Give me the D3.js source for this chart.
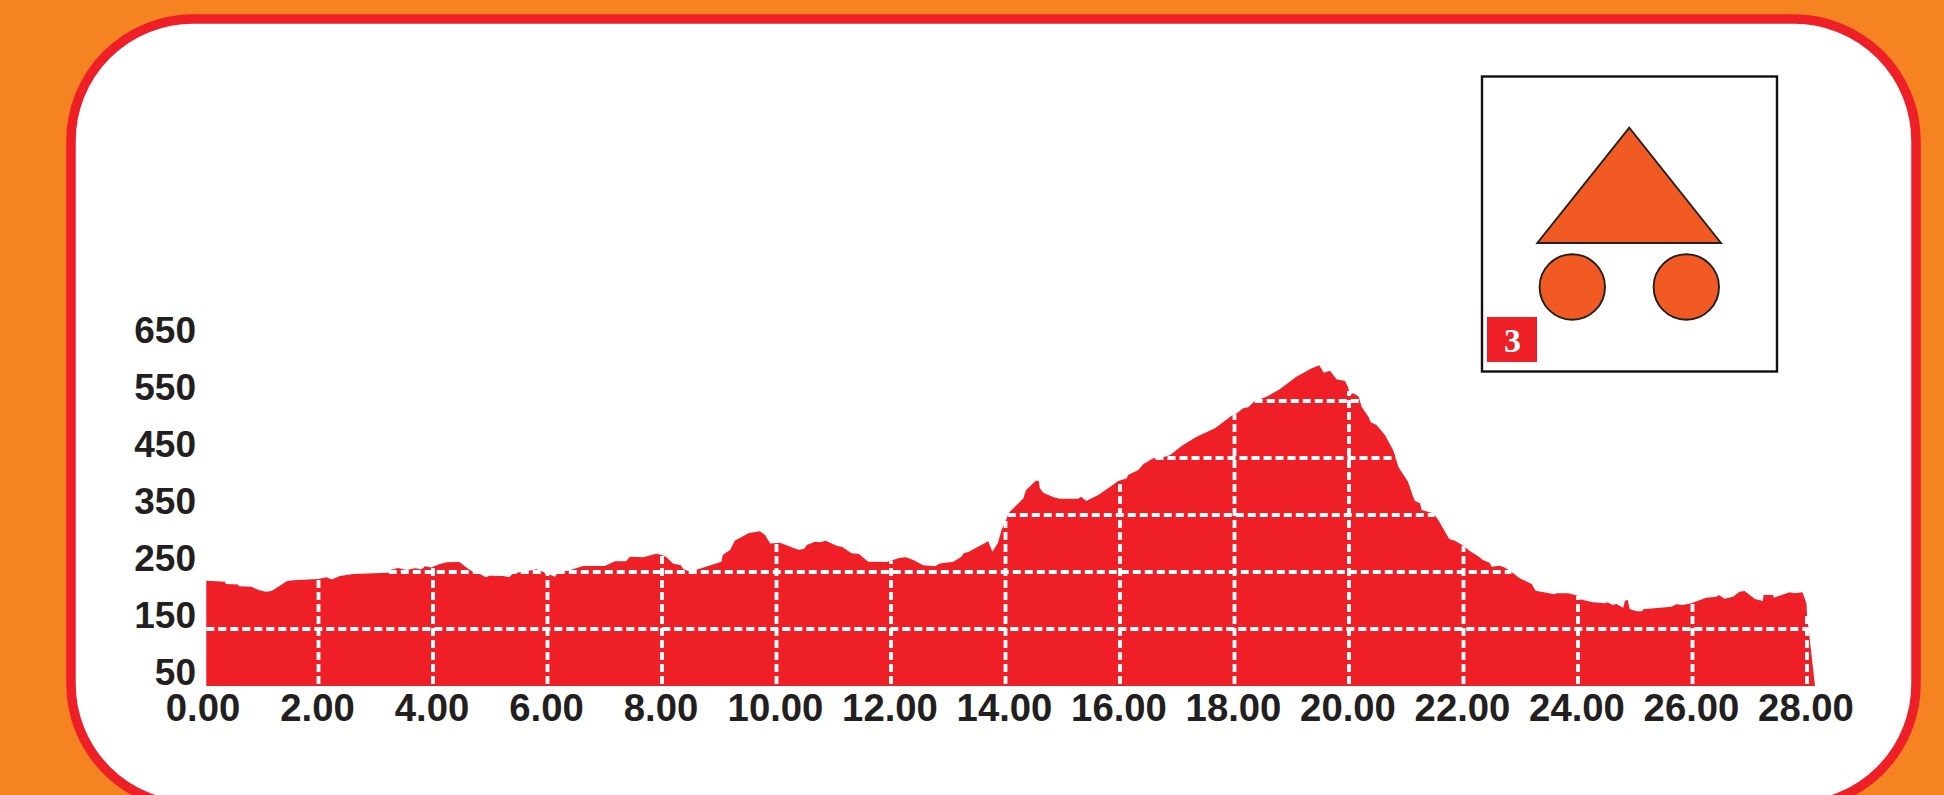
<!DOCTYPE html>
<html>
<head>
<meta charset="utf-8">
<style>
html,body{margin:0;padding:0;background:#f58322;overflow:hidden}
svg{display:block}
text{font-family:"Liberation Sans",Arial,sans-serif;font-weight:700;fill:#231f20}
</style>
<script src="https://cdn.jsdelivr.net/npm/d3@7"></script>
</head>
<body>
<svg id="c" width="1944" height="795"></svg>
<script>
const kmValues = [0.04,0.367,0.378,0.6,0.611,0.832,0.949,1.083,1.18,1.298,1.443,1.56,1.996,2.14,2.23,2.375,2.607,3.22,3.25,3.39,3.54,3.68,3.8,3.86,3.97,4.12,4.24,4.46,4.59,4.7,4.82,4.92,4.99,5.23,5.33,5.4,5.58,5.81,5.98,6.13,6.19,6.36,6.62,7.0,7.18,7.37,7.44,7.67,7.9,8.0,8.08,8.19,8.33,8.37,8.49,9.04,9.06,9.19,9.27,9.51,9.71,9.8,9.89,10.06,10.38,10.48,10.53,10.67,10.76,10.86,11.05,11.15,11.31,11.44,11.6,11.92,12.16,12.26,12.39,12.56,12.77,12.85,13.09,13.23,13.27,13.35,13.7,13.77,13.87,13.93,14.02,14.05,14.31,14.36,14.53,14.58,14.6,14.66,14.84,14.95,15.27,15.32,15.41,15.62,15.83,15.97,16.12,16.14,16.32,16.41,16.58,16.78,16.87,17.1,17.34,17.66,17.95,18.04,18.15,18.24,18.36,18.56,18.79,19.08,19.35,19.48,19.56,19.67,19.78,19.93,19.98,20.02,20.07,20.13,20.17,20.22,20.34,20.38,20.48,20.63,20.77,20.82,20.86,21.03,21.12,21.15,21.24,21.27,21.47,21.56,21.75,21.85,22.0,22.11,22.25,22.34,22.46,22.49,22.63,22.72,22.87,22.98,23.19,23.26,23.59,23.62,23.83,24.0,24.03,24.26,24.47,24.51,24.61,24.67,24.79,24.82,24.87,24.9,25.02,25.12,25.14,25.63,25.72,25.83,25.98,26.24,26.42,26.46,26.56,26.71,26.82,26.91,27.09,27.23,27.24,27.41,27.42,27.7,27.78,27.92,27.99,28.0,28.14];
const elevationValues = [234.8,233,229,228,225,224,218.4,215.5,216.6,224,233.6,235.4,237.7,240.6,237,243,246.5,248.8,253.5,257,253.5,256.4,255,260,258,264,267,267.5,257.6,250,246.5,240.6,243.5,243,240.6,247.6,250.6,254.7,247.6,241.8,250,252.3,260.5,260.5,268.7,268.7,276.9,275.7,282,279.8,275.7,265,262,255.2,250.6,268,279.8,288.6,305,317.8,321.3,315,300,301.4,289,290.3,297.4,303,302,305,296,293.8,282.7,281.6,268,267.5,275,275.7,271,261.7,260,265,268,276.9,282.7,285,303.8,285.7,301.4,323.7,344,353,379,394,410,410,396.8,389,381,378.7,378.7,382,374.6,385,399.7,409.7,414.4,420,429,439.5,449.4,452.4,455,472.8,487.5,502,524.3,528.4,537.2,538.9,550.6,557.6,570.5,592.7,607.3,612.6,599.7,603.2,588,585,575,560.5,563.5,560.5,557.6,540,522.5,512.6,508,490,464,449.4,434.8,408.5,382,375,370.5,358.8,353,341.3,308,305,296,287,278,271,266,259.4,261,258,247.7,239,229,217,210.8,212.6,212.6,208.5,202,196.8,195,196.8,192,194,187.4,199.7,200.9,185,181,181,184.5,189,193.3,192,195,205,206.7,209.6,203,206.7,215.5,216.7,202.6,199,209.6,209.6,205,214.3,212.6,214.3,195,174.6,50];
const xTicks = [0,2,4,6,8,10,12,14,16,18,20,22,24,26,28];
const yTicks = [50,150,250,350,450,550,650];
const gridLevels = [150,250,350,450,550];
const gridKm = [2,4,6,8,10,12,14,16,18,20,22,24,26,28];
const badgeLabel = "3";

const RED="#ee1f26", ORANGE="#f15a22", INK="#231f20";
const svg=d3.select("#c");
const x=d3.scaleLinear().domain([0,28]).range([204,1807]);
const y=d3.scaleLinear().domain([50,650]).range([686,344]);

svg.append("rect").attr("width",1944).attr("height",795).attr("fill","#f58322");
svg.append("rect").attr("x",71).attr("y",19).attr("width",1845).attr("height",787)
  .attr("rx",122).attr("ry",122).attr("fill","#fff").attr("stroke",RED).attr("stroke-width",9.5);

const pts=kmValues.map((k,i)=>({k,e:elevationValues[i]}));
svg.append("path").datum(pts).attr("fill",RED)
  .attr("d",d3.area().x(d=>x(d.k)).y0(y(50)).y1(d=>y(d.e)));

function elevAt(k){
  const i=d3.bisectLeft(kmValues,k);
  if(i<=0) return elevationValues[0];
  const t=(k-kmValues[i-1])/(kmValues[i]-kmValues[i-1]);
  return elevationValues[i-1]+t*(elevationValues[i]-elevationValues[i-1]);
}
function extent(level){
  let a=elevationValues[0]>level?kmValues[0]:null,b=null;
  for(let i=0;i<pts.length-1;i++){
    const p=pts[i],q=pts[i+1];
    if((p.e-level)*(q.e-level)<=0){
      const c=p.k+(level-p.e)/(q.e-p.e||1)*(q.k-p.k);
      if(a===null)a=c;
      b=c;
    }
  }
  return [a,b];
}
const g=svg.append("g").attr("stroke","#fff").attr("stroke-width",3.8).attr("stroke-dasharray","8 4");
g.selectAll("line.h").data(gridLevels).join("line").attr("class","h")
  .attr("x1",d=>x(extent(d)[0])).attr("x2",d=>x(extent(d)[1]))
  .attr("y1",d=>y(d)).attr("y2",d=>y(d));
g.selectAll("line.v").data(gridKm).join("line").attr("class","v")
  .attr("x1",d=>x(d)).attr("x2",d=>x(d))
  .attr("y1",y(50)-2).attr("y2",d=>y(elevAt(d)));

const xAxis=svg.append("g").attr("transform","translate(-1.5,686)")
  .call(d3.axisBottom(x).tickValues(xTicks).tickSize(0).tickPadding(7.5).tickFormat(d3.format(".2f")));
const yAxis=svg.append("g").attr("transform","translate(196,-13)")
  .call(d3.axisLeft(y).tickValues(yTicks).tickSize(0).tickPadding(0).tickFormat(d3.format("d")));
[xAxis,yAxis].forEach((a,i)=>{a.select(".domain").remove();a.attr("font-family",null).attr("font-size",null);
  a.selectAll("text").style("font-size",i?"37px":"38.3px").style("font-family",'"Liberation Sans",Arial,sans-serif').style("font-weight",700).style("fill",INK);});

const icon=svg.append("g");
icon.append("rect").attr("x",1482).attr("y",76.5).attr("width",295).attr("height",295)
  .attr("fill","#fff").attr("stroke","#111").attr("stroke-width",2.4);
icon.append("path").attr("d",d3.line()([[1629.3,127.7],[1537.3,243],[1721,243]])+"Z")
  .attr("fill",ORANGE).attr("stroke",INK).attr("stroke-width",1.9);
icon.selectAll("circle").data([1572.3,1686.3]).join("circle")
  .attr("cx",d=>d).attr("cy",287).attr("r",32.7).attr("fill",ORANGE).attr("stroke",INK).attr("stroke-width",1.9);
icon.append("rect").attr("x",1487).attr("y",317).attr("width",50).attr("height",45).attr("fill",RED);
icon.append("text").attr("x",1512.5).attr("y",351.5).attr("text-anchor","middle")
  .style("font-family",'"Liberation Serif",serif').style("font-size","34px").style("fill","#fff").text(badgeLabel);
</script>
</body>
</html>
